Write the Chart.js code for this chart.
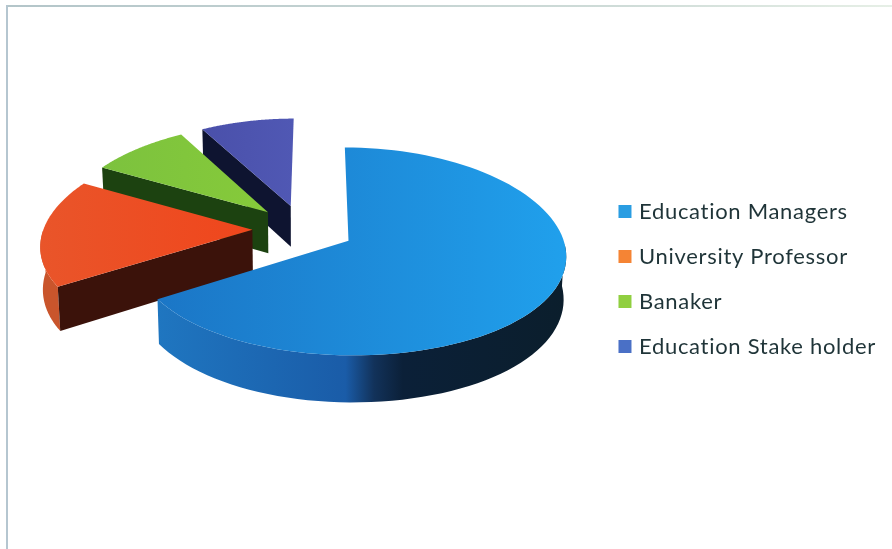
<!DOCTYPE html>
<html>
<head>
<meta charset="utf-8">
<title>Stakeholder pie</title>
<script src="https://cdn.jsdelivr.net/npm/chart.js@4"></script>
<style>
  html, body { margin: 0; background: #fff; }
  #wrap { position: relative; width: 892px; height: 549px; overflow: hidden; }
  #edgeTop { position: absolute; left: 7px; top: 5px; width: 885px; height: 2px;
             background: linear-gradient(to right, #b3c5c9, #cfdcd8 70%, #e6efe6); }
  #edgeLeft { position: absolute; left: 6px; top: 5px; width: 2px; height: 544px; background: #b5c6d0; }
</style>
</head>
<body>
<div id="wrap">
  <div id="edgeTop"></div>
  <div id="edgeLeft"></div>
  <canvas id="pie" width="892" height="549" style="position:absolute;left:0;top:0"></canvas>
</div>
<script>
const categories = ["Education Managers", "University Professor", "Banaker", "Education Stake holder"];
const shares = [66, 17, 8.7, 8.3];

const legendColors = ["#2a9de2", "#f58434", "#90cf40", "#4a70c6"];
const topColors = [["#1b76c6", "#20a0ec"], ["#e9552a", "#f0461c"], ["#7cc23e", "#86ca3a"], ["#4a50aa", "#5058b4"]];
const rimColors = [
  [[0, "#1f76c0"], [0.46, "#1a5ca8"], [0.53, "#12325a"], [0.6, "#0b2038"], [1, "#0b1e2c"]],
  [[0, "#c9552c"], [1, "#c9552c"]],
  [[0, "#1b3f10"], [1, "#1b3f10"]],
  [[0, "#10152f"], [1, "#10152f"]]
];
const cutColors = [null, "#3b120a", "#1c4210", "#0e1430"];

// tilted view of the pie plane
const camera = {
  x: 303, y: 229, rx: 212, ry: 100.5,
  k: 0.1, kx: 0.13, vanishX: 317, leftScale: 0.985,
  depth: 41.8, shrink: 0.99
};

function project(u, v, lower) {
  const s = 1 / (1 - camera.k * v);
  const sx = 1 / (1 - camera.kx * v);
  const across = u < 0 ? u * camera.leftScale : u;
  let x = camera.vanishX + (camera.x + camera.rx * across - camera.vanishX) * sx;
  let y = camera.y + camera.ry * v * s;
  if (lower) {
    x = camera.x + (x - camera.x) * camera.shrink;
    y += camera.depth * s;
  }
  return [x, y];
}

function fillPath(ctx, points, fill) {
  ctx.beginPath();
  points.forEach((p, i) => i ? ctx.lineTo(p[0], p[1]) : ctx.moveTo(p[0], p[1]));
  ctx.closePath();
  ctx.fillStyle = fill;
  ctx.fill();
}

function xGradient(ctx, points, stops) {
  const xs = points.map(p => p[0]);
  const g = ctx.createLinearGradient(Math.min(...xs), 0, Math.max(...xs), 0);
  stops.forEach(s => g.addColorStop(s[0], s[1]));
  return g;
}

const tiltedPie = {
  id: "tiltedPie",
  beforeUpdate(chart) {
    chart.ctx.letterSpacing = "0.7px";
  },
  // the arcs are drawn here instead of by the controller, back slices first
  beforeDatasetsDraw(chart) {
    const ctx = chart.ctx;
    const arcs = chart.getDatasetMeta(0).data;
    for (let i = arcs.length - 1; i >= 0; i--) {
      const arc = arcs[i];
      const R = arc.outerRadius;
      const mid = (arc.startAngle + arc.endAngle) / 2;
      const e = arc.options.offset / 4 / R;
      const ou = e * Math.cos(mid);
      const ov = e * Math.sin(mid);

      const steps = 96;
      const upper = [];
      const lower = [];
      const rimUpper = [];
      const rimLower = [];
      for (let n = 0; n <= steps; n++) {
        const a = arc.startAngle + (arc.endAngle - arc.startAngle) * n / steps;
        const u = ou + Math.cos(a);
        const v = ov + Math.sin(a);
        upper.push(project(u, v, false));
        lower.push(project(u, v, true));
        // only the near half of the rim faces the viewer
        if (Math.sin(a) >= 0) {
          rimUpper.push(upper[n]);
          rimLower.push(lower[n]);
        }
      }

      if (rimUpper.length) {
        const rim = rimUpper.concat(rimLower.reverse());
        fillPath(ctx, rim, xGradient(ctx, rim, rimColors[i]));
      }

      if (cutColors[i]) {
        fillPath(ctx, [
          project(ou, ov, false), upper[0], lower[0], project(ou, ov, true)
        ], cutColors[i]);
      }

      const top = [project(ou, ov, false)].concat(upper);
      fillPath(ctx, top, xGradient(ctx, top, [[0, topColors[i][0]], [1, topColors[i][1]]]));
    }
    return false;
  }
};

new Chart(document.getElementById("pie"), {
  type: "pie",
  data: {
    labels: categories,
    datasets: [{
      data: shares,
      backgroundColor: legendColors,
      borderColor: legendColors,
      borderWidth: 7,
      offset: 174
    }]
  },
  options: {
    responsive: false,
    animation: false,
    layout: { padding: { top: 9, right: 6 } },
    plugins: {
      tooltip: { enabled: false },
      legend: {
        position: "right",
        labels: {
          boxWidth: 6,
          boxHeight: 6,
          padding: 23,
          color: "#1f3438",
          font: { family: "Lato", size: 22 }
        }
      }
    }
  },
  plugins: [tiltedPie]
});
</script>
</body>
</html>
